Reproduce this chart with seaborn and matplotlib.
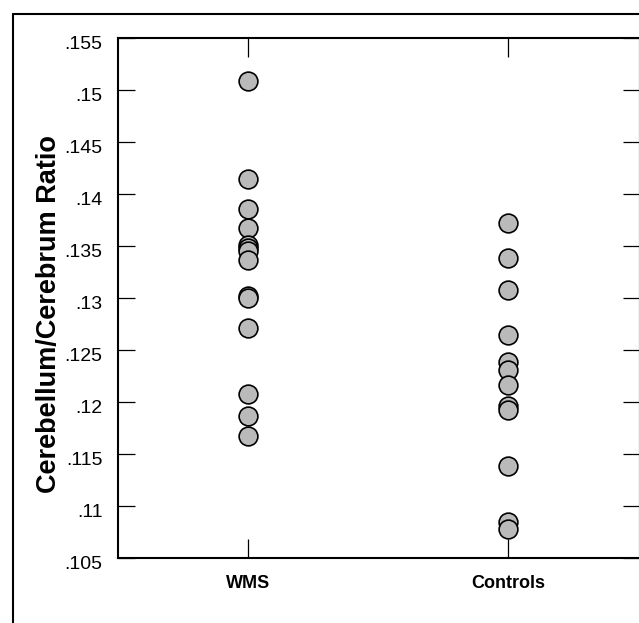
import matplotlib
matplotlib.use('Agg')
import matplotlib.pyplot as plt
import seaborn as sns
import pandas as pd
from matplotlib.ticker import FuncFormatter, MultipleLocator
from matplotlib.lines import Line2D
from matplotlib.transforms import ScaledTranslation

# Data
groups = ['WMS', 'Controls']
wms = [0.1509, 0.1414, 0.1386, 0.1367, 0.1351, 0.1348, 0.1345, 0.1337,
       0.1302, 0.1300, 0.1271, 0.1208, 0.1187, 0.1167]
controls = [0.1372, 0.1338, 0.1308, 0.1264, 0.1238, 0.1231, 0.1216,
            0.1196, 0.1192, 0.1138, 0.1085, 0.1078]

df = pd.DataFrame({
    'Group': ['WMS'] * len(wms) + ['Controls'] * len(controls),
    'Ratio': wms + controls,
})

sns.set_style('ticks')
plt.rcParams['font.family'] = ['Liberation Sans', 'DejaVu Sans']
plt.rcParams['text.color'] = 'black'
plt.rcParams['axes.labelcolor'] = 'black'
plt.rcParams['xtick.color'] = 'black'
plt.rcParams['ytick.color'] = 'black'

W, H = 639, 623
fig = plt.figure(figsize=(W / 100, H / 100), dpi=100)
ax = fig.add_axes([118 / W, (H - 558) / H, 522 / W, 520 / H])

sns.stripplot(data=df, x='Group', y='Ratio', order=groups, jitter=False,
              size=13.5, color='#bababa', edgecolor='black', linewidth=1.2,
              ax=ax)

ax.set_xlim(-0.5, 1.5077)
ax.set_ylim(0.105, 0.155)
ax.yaxis.set_major_locator(MultipleLocator(0.005))
ax.yaxis.set_major_formatter(FuncFormatter(lambda v, p: f'{v:.3f}'.rstrip('0').lstrip('0')))

for s in ax.spines.values():
    s.set_linewidth(1.5)
    s.set_color('black')

ax.tick_params(axis='x', top=True, bottom=True, direction='in', length=14,
               width=0.9, pad=12, labelsize=13)
ax.tick_params(axis='y', left=True, right=True, direction='in', length=12,
               width=0.9, pad=11, labelsize=14)
for lbl in ax.get_xticklabels():
    lbl.set_fontweight('bold')
# y tick labels sit a little below their ticks in the reference
shift = ScaledTranslation(0, -3 / 72, fig.dpi_scale_trans)
for lbl in ax.get_yticklabels():
    lbl.set_transform(lbl.get_transform() + shift)

ax.set_xlabel('')
ax.set_ylabel('Cerebellum/Cerebrum Ratio', fontsize=19.5, fontweight='bold')
ax.yaxis.set_label_coords((62 - 118) / 522, 0.47)

# outer frame (left and top edges)
fig.add_artist(Line2D([13 / W, 13 / W], [0, (H - 14) / H], color='black', lw=1.5,
                      transform=fig.transFigure))
fig.add_artist(Line2D([13 / W, 1], [(H - 14) / H, (H - 14) / H], color='black', lw=1.5,
                      transform=fig.transFigure))

fig.savefig('out.png', dpi=100)
